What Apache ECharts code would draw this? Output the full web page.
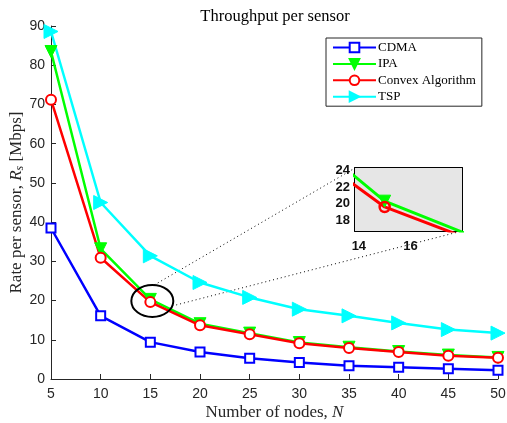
<!DOCTYPE html>
<html><head><meta charset="utf-8">
<script src="https://cdn.jsdelivr.net/npm/echarts@6/dist/echarts.min.js"></script>
<style>html,body{margin:0;padding:0;background:#fff}#c{width:507px;height:423px}</style>
</head><body><div id="c"></div>
<script>
const nodes = [5, 10, 15, 20, 25, 30, 35, 40, 45, 50];
const cdma = [38.5, 16.1, 9.4, 6.9, 5.3, 4.2, 3.4, 3.0, 2.6, 2.2];
const ipa = [83.5, 33.2, 20.3, 14.1, 11.7, 9.3, 8.1, 7.0, 6.1, 5.5];
const convex = [71.2, 30.9, 19.6, 13.7, 11.4, 9.1, 7.9, 6.9, 5.9, 5.4];
const tsp = [88.6, 45.0, 31.4, 24.6, 20.8, 17.8, 16.1, 14.3, 12.6, 11.7];
const seriesNames = ['CDMA', 'IPA', 'Convex Algorithm', 'TSP'];
const xTicks = [5, 10, 15, 20, 25, 30, 35, 40, 45, 50];
const yTicks = [0, 10, 20, 30, 40, 50, 60, 70, 80, 90];
const insetX = [13.85, 18];
const insetY = [16.7, 24.3];
const insetXTicks = [14, 16, 18];
const insetXLabels = [14, 16];
const insetYTicks = [18, 20, 22, 24];
const zoomCenter = [15.2, 19.9];

const pair = ys => nodes.map((x, i) => [x, ys[i]]);
const serif = 'Liberation Serif';
const sans = 'Liberation Sans';
const axisCol = '#262626';

const chart = echarts.init(document.getElementById('c'), null, {renderer: 'canvas'});

function mainSeries(name, ys, color, symbol, size, rot, filled) {
  return {
    name, type: 'line', xAxisIndex: 0, yAxisIndex: 0, data: pair(ys),
    symbol, symbolSize: size, symbolRotate: rot,
    lineStyle: {color, width: 2.5},
    itemStyle: filled ? {color, borderColor: color, borderWidth: 1} : {color: '#fff', borderColor: color, borderWidth: 2},
    color, z: 3, animation: false
  };
}
function insetSeries(name, ys, color, symbol, size, rot, filled) {
  return {
    name: name + ' (inset)', type: 'line', xAxisIndex: 1, yAxisIndex: 1, data: pair(ys),
    symbol, symbolSize: size, symbolRotate: rot, clip: true,
    lineStyle: {color, width: 3},
    itemStyle: filled ? {color, borderColor: color, borderWidth: 1} : {color: 'rgba(0,0,0,0)', borderColor: color, borderWidth: 2.5},
    z: 5, animation: false
  };
}

const option = {
  animation: false,
  backgroundColor: '#fff',
  title: {
    text: 'Throughput per sensor', left: 270, top: 3, textAlign: 'center',
    textStyle: {fontFamily: serif, fontSize: 16.5, fontWeight: 'normal', color: '#000'}
  },
  legend: {
    data: seriesNames, orient: 'vertical', left: 326, top: 38,
    itemWidth: 43, itemHeight: 12, itemGap: 3.4,
    padding: [3, 6, 3, 6],
    borderColor: axisCol, borderWidth: 1, backgroundColor: '#fff',
    textStyle: {fontFamily: serif, fontSize: 13, color: '#000', padding: [0, 0, 0, -3]},
    z: 10
  },
  grid: [
    {left: 51, right: 9, top: 26, bottom: 44, containLabel: false, outerBoundsMode: 'none'},
    {left: 355, top: 168, width: 107, height: 63, show: true, backgroundColor: '#e6e6e6', borderWidth: 0, z: 4, containLabel: false, outerBoundsMode: 'none'}
  ],
  xAxis: [
    {
      type: 'value', gridIndex: 0, min: 5, max: 50, interval: 5,
      name: '{a|Number of nodes, }{i|N}', nameLocation: 'middle', nameGap: 25, nameMoveOverlap: false,
      nameTextStyle: {rich: {a: {fontFamily: serif, fontSize: 17, color: axisCol}, i: {fontFamily: serif, fontStyle: 'italic', fontSize: 17, color: axisCol}}},
      axisLine: {show: true, lineStyle: {color: axisCol, width: 1}},
      axisTick: {show: true, inside: true, length: 5, lineStyle: {color: axisCol}},
      axisLabel: {fontFamily: sans, fontSize: 14, color: axisCol, margin: 8, formatter: v => xTicks.includes(v) ? String(v) : ''},
      splitLine: {show: false}
    },
    {
      type: 'value', gridIndex: 1, min: insetX[0], max: insetX[1], interval: 2,
      axisLine: {show: true, onZero: false, lineStyle: {color: '#000', width: 2}},
      axisTick: {show: true, inside: true, length: 3, lineStyle: {color: '#000', width: 1.5}, customValues: insetXTicks},
      axisLabel: {fontFamily: sans, fontSize: 13, fontWeight: 'bold', color: '#111', margin: 9, customValues: insetXLabels},
      splitLine: {show: false}
    },
    {
      type: 'value', gridIndex: 1, position: 'top', min: insetX[0], max: insetX[1],
      axisLine: {show: true, onZero: false, lineStyle: {color: '#000', width: 2}},
      axisTick: {show: true, inside: true, length: 3, lineStyle: {color: '#000', width: 1.5}, customValues: insetXTicks},
      axisLabel: {show: false}, splitLine: {show: false}
    }
  ],
  yAxis: [
    {
      type: 'value', gridIndex: 0, min: 0, max: 90, interval: 10,
      name: '{a|Rate per sensor, }{i|R}{s|s}{a| [Mbps]}', nameLocation: 'middle', nameGap: 25, nameMoveOverlap: false,
      nameTextStyle: {rich: {
        a: {fontFamily: serif, fontSize: 17, color: axisCol},
        i: {fontFamily: serif, fontStyle: 'italic', fontSize: 17, color: axisCol},
        s: {fontFamily: serif, fontStyle: 'italic', fontSize: 12, color: axisCol, padding: [7, 0, 0, 0]}
      }},
      axisLine: {show: true, lineStyle: {color: axisCol, width: 1}},
      axisTick: {show: true, inside: true, length: 5, lineStyle: {color: axisCol}},
      axisLabel: {fontFamily: sans, fontSize: 14, color: axisCol, margin: 6, formatter: v => yTicks.includes(v) ? String(v) : ''},
      splitLine: {show: false}
    },
    {
      type: 'value', gridIndex: 1, min: insetY[0], max: insetY[1],
      axisLine: {show: true, onZero: false, lineStyle: {color: '#000', width: 2}},
      axisTick: {show: true, inside: true, length: 3, lineStyle: {color: '#000', width: 1.5}, customValues: insetYTicks},
      axisLabel: {fontFamily: sans, fontSize: 13, fontWeight: 'bold', color: '#111', margin: 5, customValues: insetYTicks},
      splitLine: {show: false}
    },
    {
      type: 'value', gridIndex: 1, position: 'right', min: insetY[0], max: insetY[1],
      axisLine: {show: true, onZero: false, lineStyle: {color: '#000', width: 2}},
      axisTick: {show: true, inside: true, length: 3, lineStyle: {color: '#000', width: 1.5}, customValues: insetYTicks},
      axisLabel: {show: false}, splitLine: {show: false}
    }
  ],
  series: [
    mainSeries('CDMA', cdma, '#0000ff', 'rect', 9, 0, false),
    mainSeries('IPA', ipa, '#00ff00', 'triangle', 12, 180, true),
    mainSeries('Convex Algorithm', convex, '#ff0000', 'circle', 10, 0, false),
    mainSeries('TSP', tsp, '#00ffff', 'triangle', 14, -90, true),
    insetSeries('IPA', ipa, '#00ff00', 'triangle', 12, 180, true),
    insetSeries('Convex Algorithm', convex, '#ff0000', 'circle', 10, 0, false)
  ]
};
chart.setOption(option);

// zoom annotation: ellipse around region and dotted connectors to inset
const c = chart.convertToPixel({gridIndex: 0}, zoomCenter);
const rx = 21, ry = 16;
const tl = chart.convertToPixel({gridIndex: 1}, [insetX[0], insetY[1]]);
const br = chart.convertToPixel({gridIndex: 1}, [insetX[1], insetY[0]]);
chart.setOption({
  graphic: [
    {type: 'ellipse', shape: {cx: c[0], cy: c[1], rx, ry}, style: {fill: 'none', stroke: '#000', lineWidth: 2}, z: 20},
    {type: 'line', shape: {x1: c[0] + 2, y1: c[1] - ry, x2: tl[0], y2: tl[1]}, style: {stroke: '#000', lineWidth: 1, lineDash: [1, 3]}, z: 1},
    {type: 'line', shape: {x1: c[0] + rx - 1, y1: c[1] + 5, x2: br[0], y2: br[1]}, style: {stroke: '#000', lineWidth: 1, lineDash: [1, 3]}, z: 1}
  ]
});
</script></body></html>
